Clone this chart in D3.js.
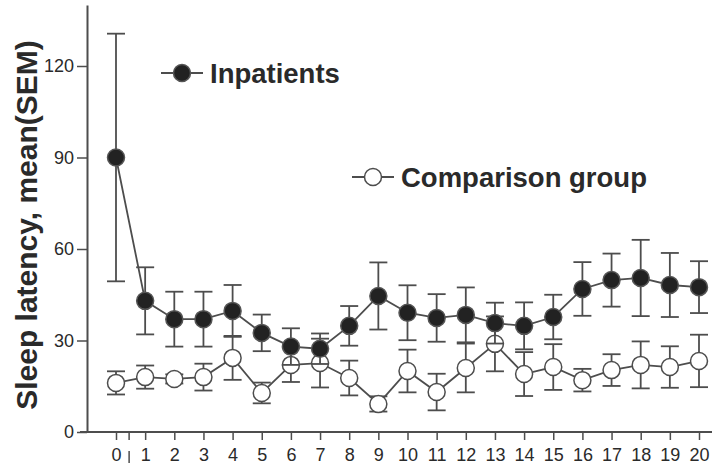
<!DOCTYPE html>
<html>
<head>
<meta charset="utf-8">
<script src="https://cdn.jsdelivr.net/npm/d3@7"></script>
<style>
  body { margin: 0; background: #fff; }
  svg { display: block; }
</style>
</head>
<body>
<div id="chart-area"></div>
<script>
// days of measurement
var days = d3.range(0, 21);

var seriesNames = ["Inpatients", "Comparison group"];

// Inpatients, mean and SEM (minutes)
var inpatientMean = [90, 43, 37, 37, 39.7, 32.5, 28, 27.3, 34.8, 44.6, 39.1,
                     37.4, 38.4, 35.7, 34.8, 37.7, 46.9, 49.8, 50.5, 48.2, 47.5];
var inpatientSem  = [40.6, 11, 9, 9, 8.5, 6, 6, 5, 6.5, 11, 9,
                     7.8, 9, 6.7, 7.7, 7.3, 8.8, 8.7, 12.5, 10.5, 8.5];

// Comparison group, mean and SEM
var comparisonMean = [16.1, 18, 17.4, 18, 24.3, 12.8, 22, 22.6, 17.7, 9.2, 20,
                      13.1, 21, 28.9, 19, 21.3, 17, 20.3, 22, 21.3, 23.3];
var comparisonSem  = [3.8, 3.8, 1.5, 4.4, 7.2, 3.4, 5.6, 8, 5.7, 2.5, 7,
                      6, 8, 9, 7.2, 7.5, 3.7, 5.2, 7.7, 6.8, 8.6];

var yTicks = [0, 30, 60, 90, 120];
var yTitle = "Sleep latency, mean(SEM)";

var width = 712, height = 469;
var lineColor = "#4d4d4d";
var textColor = "#2a2a2a";

var svg = d3.select("#chart-area").append("svg")
    .attr("width", width)
    .attr("height", height);

var x = d3.scaleLinear().domain([0, 20]).range([116, 699]);
var y = d3.scaleLinear().domain([0, 140]).range([432, 5]);

// y axis
var yAxis = svg.append("g")
    .attr("transform", "translate(87,0)")
    .call(d3.axisLeft(y).tickValues(yTicks).tickSize(10).tickPadding(3).tickSizeOuter(0));
yAxis.select(".domain").attr("stroke", lineColor).attr("stroke-width", 2);
yAxis.selectAll(".tick line").attr("stroke", lineColor).attr("stroke-width", 1.5);
yAxis.selectAll(".tick text")
    .attr("fill", textColor)
    .attr("font-family", "Liberation Sans, Arial, sans-serif")
    .attr("font-size", "18px");

// x axis
var xAxis = svg.append("g")
    .attr("transform", "translate(0,432)")
    .call(d3.axisBottom(x).tickValues(days).tickSize(8).tickPadding(8).tickSizeOuter(0));
xAxis.select(".domain").remove();
xAxis.append("line")
    .attr("x1", 80).attr("x2", width)
    .attr("stroke", lineColor).attr("stroke-width", 2);
xAxis.selectAll(".tick line").attr("stroke", lineColor).attr("stroke-width", 1.5);
xAxis.selectAll(".tick text")
    .attr("fill", textColor)
    .attr("font-family", "Liberation Sans, Arial, sans-serif")
    .attr("font-size", "18px");

// the small break tick between 0 and 1
xAxis.append("line")
    .attr("x1", x(0.45)).attr("x2", x(0.45))
    .attr("y1", 0).attr("y2", 8)
    .attr("stroke", lineColor).attr("stroke-width", 1.5);
xAxis.append("line")
    .attr("x1", x(0.45)).attr("x2", x(0.45))
    .attr("y1", 19).attr("y2", 31)
    .attr("stroke", lineColor).attr("stroke-width", 1.5);

// y title
svg.append("text")
    .attr("transform", "translate(37,225) rotate(-90)")
    .attr("text-anchor", "middle")
    .attr("font-family", "Liberation Sans, Arial, sans-serif")
    .attr("font-weight", "bold")
    .attr("font-size", "30px")
    .attr("fill", textColor)
    .text(yTitle);

function drawSeries(means, sems, filled) {
    var rows = days.map(function(d, i) {
        return { day: d, mean: means[i], sem: sems[i] };
    });
    var g = svg.append("g");

    g.append("path")
        .datum(rows)
        .attr("fill", "none")
        .attr("stroke", lineColor)
        .attr("stroke-width", 1.8)
        .attr("d", d3.line()
            .x(function(d) { return x(d.day); })
            .y(function(d) { return y(d.mean); }));

    var err = g.selectAll(".err")
        .data(rows)
        .enter()
        .append("g")
            .attr("class", "err")
            .attr("stroke", lineColor)
            .attr("stroke-width", 1.8);
    err.append("line")
        .attr("x1", function(d) { return x(d.day); })
        .attr("x2", function(d) { return x(d.day); })
        .attr("y1", function(d) { return y(d.mean - d.sem); })
        .attr("y2", function(d) { return y(d.mean + d.sem); });
    err.append("line")
        .attr("x1", function(d) { return x(d.day) - 9; })
        .attr("x2", function(d) { return x(d.day) + 9; })
        .attr("y1", function(d) { return y(d.mean + d.sem); })
        .attr("y2", function(d) { return y(d.mean + d.sem); });
    err.append("line")
        .attr("x1", function(d) { return x(d.day) - 9; })
        .attr("x2", function(d) { return x(d.day) + 9; })
        .attr("y1", function(d) { return y(d.mean - d.sem); })
        .attr("y2", function(d) { return y(d.mean - d.sem); });

    g.selectAll("circle")
        .data(rows)
        .enter()
        .append("circle")
            .attr("cx", function(d) { return x(d.day); })
            .attr("cy", function(d) { return y(d.mean); })
            .attr("r", 8.5)
            .attr("fill", filled ? "#222" : "#fff")
            .attr("stroke", filled ? "#555" : lineColor)
            .attr("stroke-width", 1.5);
}

drawSeries(comparisonMean, comparisonSem, false);
drawSeries(inpatientMean, inpatientSem, true);

// legend
var legendPos = [[182, 73], [373, 177]];
seriesNames.forEach(function(name, i) {
    var lx = legendPos[i][0], ly = legendPos[i][1];
    var lg = svg.append("g");
    lg.append("line")
        .attr("x1", lx - 21).attr("x2", lx + 21)
        .attr("y1", ly).attr("y2", ly)
        .attr("stroke", lineColor).attr("stroke-width", 1.8);
    lg.append("circle")
        .attr("cx", lx).attr("cy", ly).attr("r", 8.5)
        .attr("fill", i === 0 ? "#222" : "#fff")
        .attr("stroke", i === 0 ? "#555" : lineColor)
        .attr("stroke-width", 1.5);
    lg.append("text")
        .attr("x", lx + 28).attr("y", ly + 10)
        .attr("font-family", "Liberation Sans, Arial, sans-serif")
        .attr("font-weight", "bold")
        .attr("font-size", "27.5px")
        .attr("fill", textColor)
        .text(name);
});
</script>
</body>
</html>
